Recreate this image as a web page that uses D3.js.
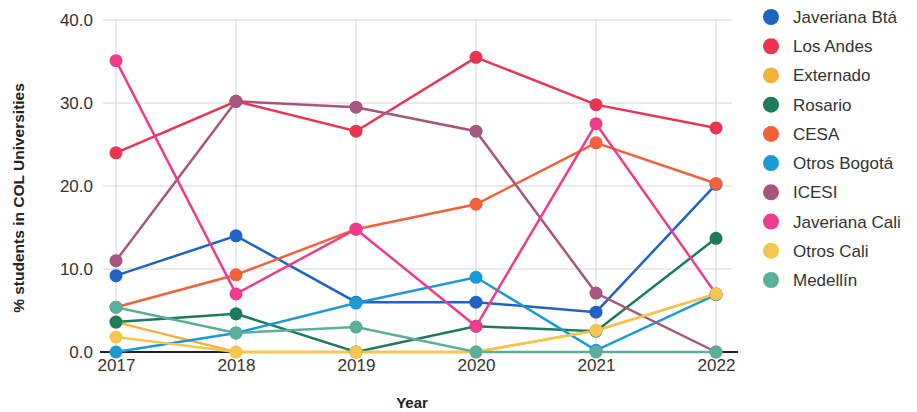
<!DOCTYPE html>
<html><head><meta charset="utf-8">
<script src="https://cdn.jsdelivr.net/npm/d3@7"></script>
<style>body{margin:0;background:#fff;}svg{display:block;font-family:"Liberation Sans",Arial,sans-serif;}</style>
</head><body><svg id="c" width="917" height="412"></svg>
<script>
const years = [2017, 2018, 2019, 2020, 2021, 2022];
const yTicks = [0, 10, 20, 30, 40];
const seriesNames = ["Javeriana Btá","Los Andes","Externado","Rosario","CESA","Otros Bogotá","ICESI","Javeriana Cali","Otros Cali","Medellín"];
const colors = ["#1f63c4","#ea3550","#f3b33a","#1d7a5c","#f2623a","#1b9ad2","#a5567e","#ef3b8d","#f4c650","#5aaf98"];
const javerianaBta = [9.2, 14.0, 6.0, 6.0, 4.8, 20.2];
const losAndes = [24.0, 30.2, 26.6, 35.5, 29.8, 27.0];
const externado = [3.6, 0, 0, 0, 2.6, 7.0];
const rosario = [3.6, 4.6, 0, 3.1, 2.5, 13.7];
const cesa = [5.4, 9.3, 14.8, 17.8, 25.2, 20.3];
const otrosBogota = [0, 2.3, 5.9, 9.0, 0.2, 6.9];
const icesi = [11.0, 30.2, 29.5, 26.6, 7.1, 0];
const javerianaCali = [35.1, 7.0, 14.8, 3.1, 27.5, 7.0];
const otrosCali = [1.8, 0, 0, 0, 2.6, 7.0];
const medellin = [5.4, 2.3, 3.0, 0, 0, 0];
const values = [javerianaBta, losAndes, externado, rosario, cesa, otrosBogota, icesi, javerianaCali, otrosCali, medellin];

const svg = d3.select("#c");
const x = d3.scalePoint().domain(years).range([116, 716]);
const y = d3.scaleLinear().domain([0, 40]).range([352, 20]);

// grid
svg.append("g").selectAll("line.h").data(yTicks.filter(d=>d>0)).join("line")
  .attr("x1", 103).attr("x2", 732).attr("y1", d=>y(d)).attr("y2", d=>y(d))
  .attr("stroke", "#d6d6de").attr("stroke-width", 1);
svg.append("g").selectAll("line.v").data(years).join("line")
  .attr("x1", d=>x(d)).attr("x2", d=>x(d)).attr("y1", y(40)).attr("y2", y(0))
  .attr("stroke", "#d6d6de").attr("stroke-width", 1);

// y axis
const ya = svg.append("g").attr("transform", "translate(101,0)")
  .call(d3.axisLeft(y).tickValues(yTicks).tickFormat(d3.format(".1f")).tickSize(0).tickPadding(8));
ya.select(".domain").remove();
ya.selectAll("text").attr("font-size", 17).attr("fill", "#333").attr("font-family", "Liberation Sans, Arial, sans-serif");

// x axis
const xa = svg.append("g").attr("transform", `translate(0,${y(0)})`)
  .call(d3.axisBottom(x).tickSize(0).tickPadding(7));
xa.select(".domain").attr("d", "M100,0H738").attr("stroke", "#222").attr("stroke-width", 2);
xa.selectAll("text").attr("font-size", 17).attr("fill", "#333").attr("font-family", "Liberation Sans, Arial, sans-serif");

// lines
const line = d3.line().x((d,i)=>x(years[i])).y(d=>y(d));
const g = svg.append("g");
values.forEach((vals, k) => {
  g.append("path").datum(vals).attr("d", line).attr("fill", "none")
    .attr("stroke", colors[k]).attr("stroke-width", 2.5);
});
values.forEach((vals, k) => {
  g.append("g").selectAll("circle").data(vals).join("circle")
    .attr("cx", (d,i)=>x(years[i])).attr("cy", d=>y(d)).attr("r", 6.5)
    .attr("fill", colors[k]);
});

// axis titles
svg.append("text").attr("transform", "translate(24,198) rotate(-90)")
  .attr("text-anchor", "middle").attr("font-size", 15.5).attr("font-weight", "bold").attr("fill", "#222")
  .text("% students in COL Universities");
svg.append("text").attr("x", 412).attr("y", 408).attr("text-anchor", "middle")
  .attr("font-size", 15).attr("font-weight", "bold").attr("fill", "#222").text("Year");

// legend
const lg = svg.append("g");
const legY = d3.scalePoint().domain(seriesNames).range([17, 280]);
seriesNames.forEach((n, k) => {
  lg.append("circle").attr("cx", 771).attr("cy", legY(n)).attr("r", 8).attr("fill", colors[k]);
  lg.append("text").attr("x", 793).attr("y", legY(n)).attr("dy", "0.35em")
    .attr("font-size", 17).attr("fill", "#333").text(n);
});
</script></body></html>
